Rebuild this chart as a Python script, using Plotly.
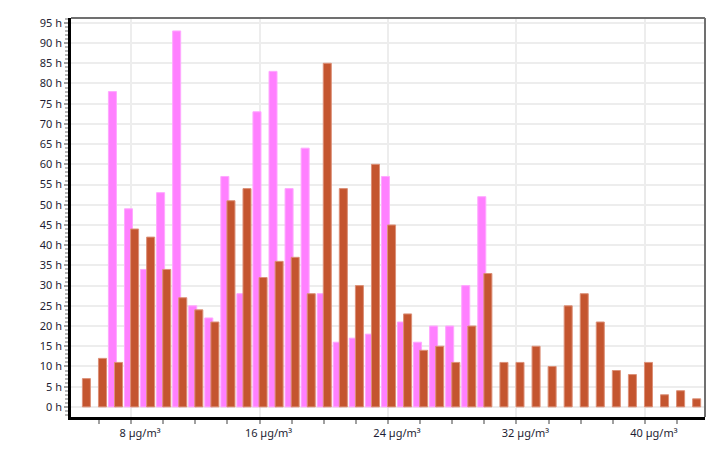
import plotly.graph_objects as go

# bins in µg/m³ and hours per bin
pink_x = list(range(7, 31))
pink_h = [78, 49, 34, 53, 93, 25, 22, 57, 28, 73, 83, 54, 64, 28,
          16, 17, 18, 57, 21, 16, 20, 20, 30, 52]

red_x = list(range(5, 44))
red_h = [7, 12, 11, 44, 42, 34, 27, 24, 21, 51, 54, 32, 36, 37, 28,
         85, 54, 30, 60, 45, 23, 14, 15, 11, 20, 33, 11, 11, 15, 10,
         25, 28, 21, 9, 8, 11, 3, 4, 2]

x_ticks = [8, 16, 24, 32, 40]
x_labels = [f"{v} µg/m³" for v in x_ticks]
y_ticks = list(range(0, 100, 5))
y_labels = [f"{v} h" for v in y_ticks]

fig = go.Figure()

fig.add_trace(go.Bar(
    x=pink_x, y=pink_h, width=0.5, offset=-0.41,
    marker=dict(color="#ff80ff", line=dict(color="#ffa8ff", width=1)),
    showlegend=False, hoverinfo="x+y"
))
fig.add_trace(go.Bar(
    x=red_x, y=red_h, width=0.5, offset=-0.03,
    marker=dict(color="#c4552f", line=dict(color="#dc9078", width=1)),
    showlegend=False, hoverinfo="x+y"
))

# gray frame on top and right
fig.add_shape(type="line", xref="paper", yref="paper", x0=0, x1=1, y0=1, y1=1,
              line=dict(color="#707070", width=2), layer="above")
fig.add_shape(type="line", xref="paper", yref="paper", x0=1, x1=1, y0=0, y1=1,
              line=dict(color="#707070", width=2), layer="above")

# page body has an 8px margin, so the figure sits 8px in from the window edge
fig.update_layout(
    width=726, height=457,
    margin=dict(l=63, r=29, t=10, b=48, autoexpand=False),
    paper_bgcolor="white", plot_bgcolor="white",
    barmode="overlay",
    font=dict(family="Noto Sans, DejaVu Sans, sans-serif", size=11, color="#1e1e33"),
)

fig.update_xaxes(
    range=[4.26, 43.74], automargin=False,
    tickvals=x_ticks, ticktext=x_labels, ticklabelshift=9,
    showgrid=True, gridcolor="#ededed", gridwidth=1.5,
    showline=True, linecolor="#000000", linewidth=2.5,
    ticks="outside", ticklen=4, tickwidth=1.5, tickcolor="#a0a0a0",
    minor=dict(dtick=2, tick0=0, ticks="outside", ticklen=4, tickwidth=1.5,
               tickcolor="#a0a0a0", showgrid=False),
    zeroline=False, fixedrange=True,
)
fig.update_yaxes(
    range=[-2.5, 96.2], automargin=False,
    tickvals=y_ticks, ticktext=y_labels,
    showgrid=True, gridcolor="#ededed", gridwidth=1.5,
    showline=True, linecolor="#000000", linewidth=2.5,
    ticks="outside", ticklen=4, tickwidth=2, tickcolor="#a0a0a0",
    minor=dict(dtick=1, tick0=0, ticks="outside", ticklen=3, tickwidth=1.5,
               tickcolor="#b8b8b8", showgrid=False),
    zeroline=False, fixedrange=True,
)

fig.write_html("out.html")
